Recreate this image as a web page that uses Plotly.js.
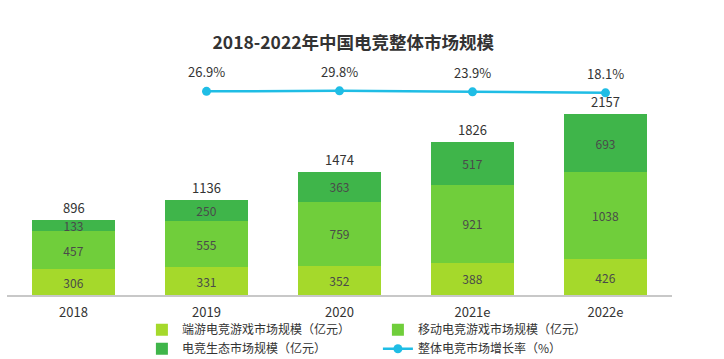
<!DOCTYPE html>
<html>
<head>
<meta charset="utf-8">
<script src="https://cdn.plot.ly/plotly-3.0.1.min.js"></script>
<style>html,body{margin:0;padding:0;background:#fff;}#chart{width:724px;height:359px;}</style>
</head>
<body>
<div id="chart"></div>
<script>
const years = ['2018', '2019', '2020', '2021e', '2022e'];
const pcGame = [306, 331, 352, 388, 426];
const mobileGame = [457, 555, 759, 921, 1038];
const ecosystem = [133, 250, 363, 517, 693];
const totals = [896, 1136, 1474, 1826, 2157];
const growthYears = ['2019', '2020', '2021e', '2022e'];
const growth = [26.9, 29.8, 23.9, 18.1];
const growthLabels = ['26.9%', '29.8%', '23.9%', '18.1%'];
const names = ['端游电竞游戏市场规模（亿元）', '移动电竞游戏市场规模（亿元）', '电竞生态市场规模（亿元）', '整体电竞市场增长率（%）'];

const FONT = '"Noto Sans CJK SC", "Noto Sans", sans-serif';
const colors = ['#A5D92B', '#70CE3B', '#3FB54A'];

function barTrace(vals, name, color) {
  return {
    type: 'bar', x: years, y: vals, name: name,
    marker: {color: color, line: {width: 0}},
    text: vals.map(String), textposition: 'inside', insidetextanchor: 'middle',
    constraintext: 'none',
    textfont: {family: FONT, size: 12, color: '#4a4a4a'},
    hoverinfo: 'skip'
  };
}

const traces = [
  barTrace(pcGame, names[0], colors[0]),
  barTrace(mobileGame, names[1], colors[1]),
  barTrace(ecosystem, names[2], colors[2]),
  {
    type: 'scatter', mode: 'lines+markers', x: growthYears, y: growth, yaxis: 'y2',
    name: names[3],
    line: {color: '#1FBDE5', width: 2.5},
    marker: {color: '#1FBDE5', size: 9},
    hoverinfo: 'skip'
  }
];

const annotations = [];
years.forEach((yr, i) => {
  annotations.push({
    x: years.indexOf(yr), y: totals[i], xref: 'x', yref: 'y', text: String(totals[i]),
    showarrow: false, yanchor: 'bottom', yshift: 1,
    font: {family: FONT, size: 13, color: '#333'}
  });
});
growthYears.forEach((yr, i) => {
  annotations.push({
    x: years.indexOf(yr), y: growth[i], xref: 'x', yref: 'y2', text: growthLabels[i],
    showarrow: false, yanchor: 'bottom', yshift: 8,
    font: {family: FONT, size: 13, color: '#333'}
  });
});

const layout = {
  width: 724, height: 359,
  margin: {l: 7, r: 52, t: 60, b: 64},
  paper_bgcolor: '#fff', plot_bgcolor: '#fff',
  font: {family: FONT, color: '#333'},
  title: {text: '<b>2018-2022年中国电竞整体市场规模</b>', x: 0.488, xanchor: 'center', y: 0.88, yanchor: 'middle',
          font: {family: FONT, size: 17.5, color: '#333'}},
  barmode: 'stack', bargap: 0.375,
  showlegend: true,
  legend: {orientation: 'h', xref: 'container', yref: 'container', x: 0.196, xanchor: 'left', y: 0.122, yanchor: 'top',
           traceorder: 'normal', entrywidth: 191, entrywidthmode: 'pixels',
           font: {family: FONT, size: 12, color: '#333'}, bgcolor: 'rgba(0,0,0,0)'},
  xaxis: {type: 'category', range: [-0.5, 4.5], showline: true, linecolor: '#c8c8c8', linewidth: 1.5,
          ticks: '', showgrid: false, zeroline: false, ticklabelstandoff: 5,
          tickfont: {family: FONT, size: 13, color: '#333'}},
  yaxis: {range: [0, 2808], visible: false, showgrid: false, zeroline: false},
  yaxis2: {range: [-1164, 210], overlaying: 'y', side: 'right', visible: false, showgrid: false, zeroline: false},
  annotations: annotations
};

Plotly.newPlot('chart', traces, layout, {displayModeBar: false, staticPlot: true});
</script>
</body>
</html>
